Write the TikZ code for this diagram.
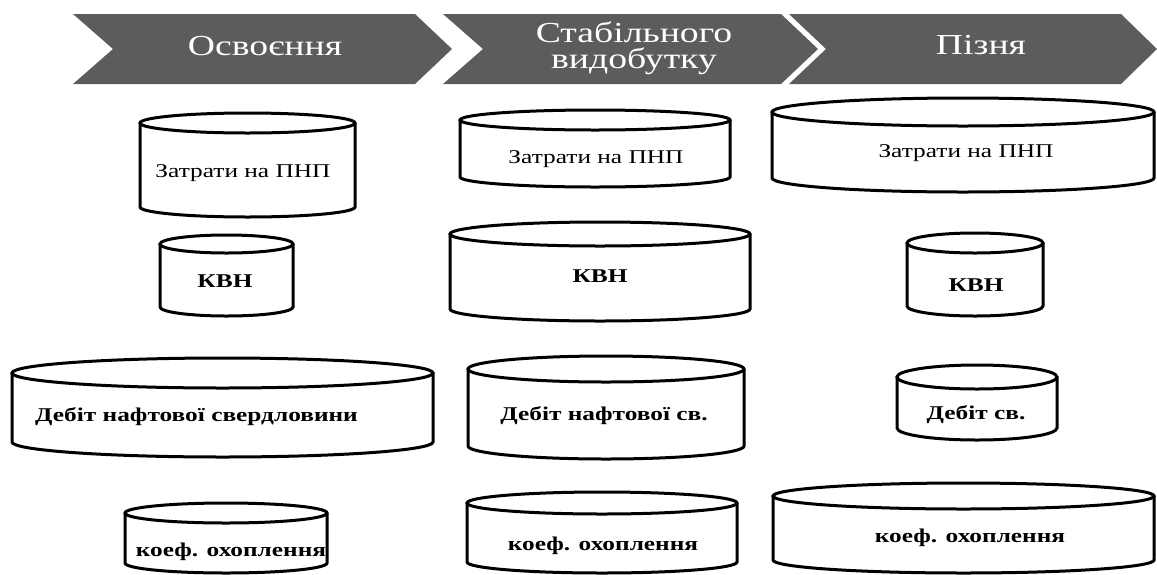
\documentclass[tikz,border=0pt]{standalone}
\usepackage{fontspec}
\newfontfamily\stagefont[FakeStretch=1.3]{Liberation Serif}
\newfontfamily\tankfont[FakeStretch=1.3]{Liberation Serif}

% cylinder: centre x, top y, bottom y, x radius, y radius
\newcommand\tank[5]{%
	\draw[tank] (#1-#4,#2+#5) -- (#1-#4,#3-#5)
		arc[start angle=180, end angle=360, x radius=#4pt, y radius=#5pt] -- (#1+#4,#2+#5);
	\draw[tank] (#1,#2+#5) ellipse[x radius=#4pt, y radius=#5pt];}

\begin{document}
\begin{tikzpicture}[x=1pt, y=-1pt,
	stage/.style = {fill=black!64, draw=none},
	stagetext/.style = {text=white, inner sep=0pt, font=\stagefont\fontsize{29}{26.5}\selectfont},
	tank/.style = {line width=3pt, fill=white},
	tanktext/.style = {inner sep=0pt, font=\tankfont\fontsize{19.5}{22}\selectfont},
	bold/.style = {tanktext, font=\tankfont\bfseries\fontsize{19.5}{22}\selectfont}]

	\useasboundingbox (0,0) rectangle (1157,574);

	% Stages of field development

	\begin{scope}[stage]

		\fill (73,14) -- (415,14) -- (452,49) -- (415,84) -- (73,84) -- (113,49) -- cycle;
		\fill (443,14) -- (781,14) -- (818,49) -- (781,84) -- (443,84) -- (483,49) -- cycle;
		\fill (789,14) -- (1121,14) -- (1157,49) -- (1121,84) -- (789,84) -- (826,49) -- cycle;

	\end{scope}

	\node [stagetext, anchor=base] (stage1) at (265,55) {Освоєння};
	\node [stagetext, align=center] (stage2) at (634,48) {Стабільного\\видобутку};
	\node [stagetext, anchor=base] (stage3) at (981,54) {Пізня};

	% Development stage

	\tank{247.5}{113}{217}{107.5}{10}
	\tank{226.5}{235}{316}{66.5}{9}
	\tank{222.5}{358}{457}{210.5}{15}
	\tank{226}{503}{573}{101}{10}

	\node [tanktext] (cost1) at (243,173) {Затрати на ПНП};
	\node [bold] (kvn1) at (225,281) {КВН};
	\node [bold, anchor=west] (rate1) at (35,417) {Дебіт нафтової свердловини};
	\node [bold] (sweep1) at (231,552) {коеф. охоплення};

	% Stable production stage

	\tank{595}{110}{187}{135}{10}
	\tank{600}{222}{321}{150}{12}
	\tank{606}{356}{459}{138}{13}
	\tank{602}{492}{573}{135}{11}

	\node [tanktext] (cost2) at (596,159) {Затрати на ПНП};
	\node [bold] (kvn2) at (600,276) {КВН};
	\node [bold] (rate2) at (604,416) {Дебіт нафтової св.};
	\node [bold] (sweep2) at (603,546) {коеф. охоплення};

	% Late stage

	\tank{963}{98}{192}{191}{14}
	\tank{975}{233}{316}{68}{10}
	\tank{977}{365}{440}{80}{12}
	\tank{963.5}{483}{573}{190.5}{13}

	\node [tanktext] (cost3) at (966,153) {Затрати на ПНП};
	\node [bold] (kvn3) at (976,285) {КВН};
	\node [bold] (rate3) at (976,415) {Дебіт св.};
	\node [bold] (sweep3) at (970,538) {коеф. охоплення};

\end{tikzpicture}
\end{document}
